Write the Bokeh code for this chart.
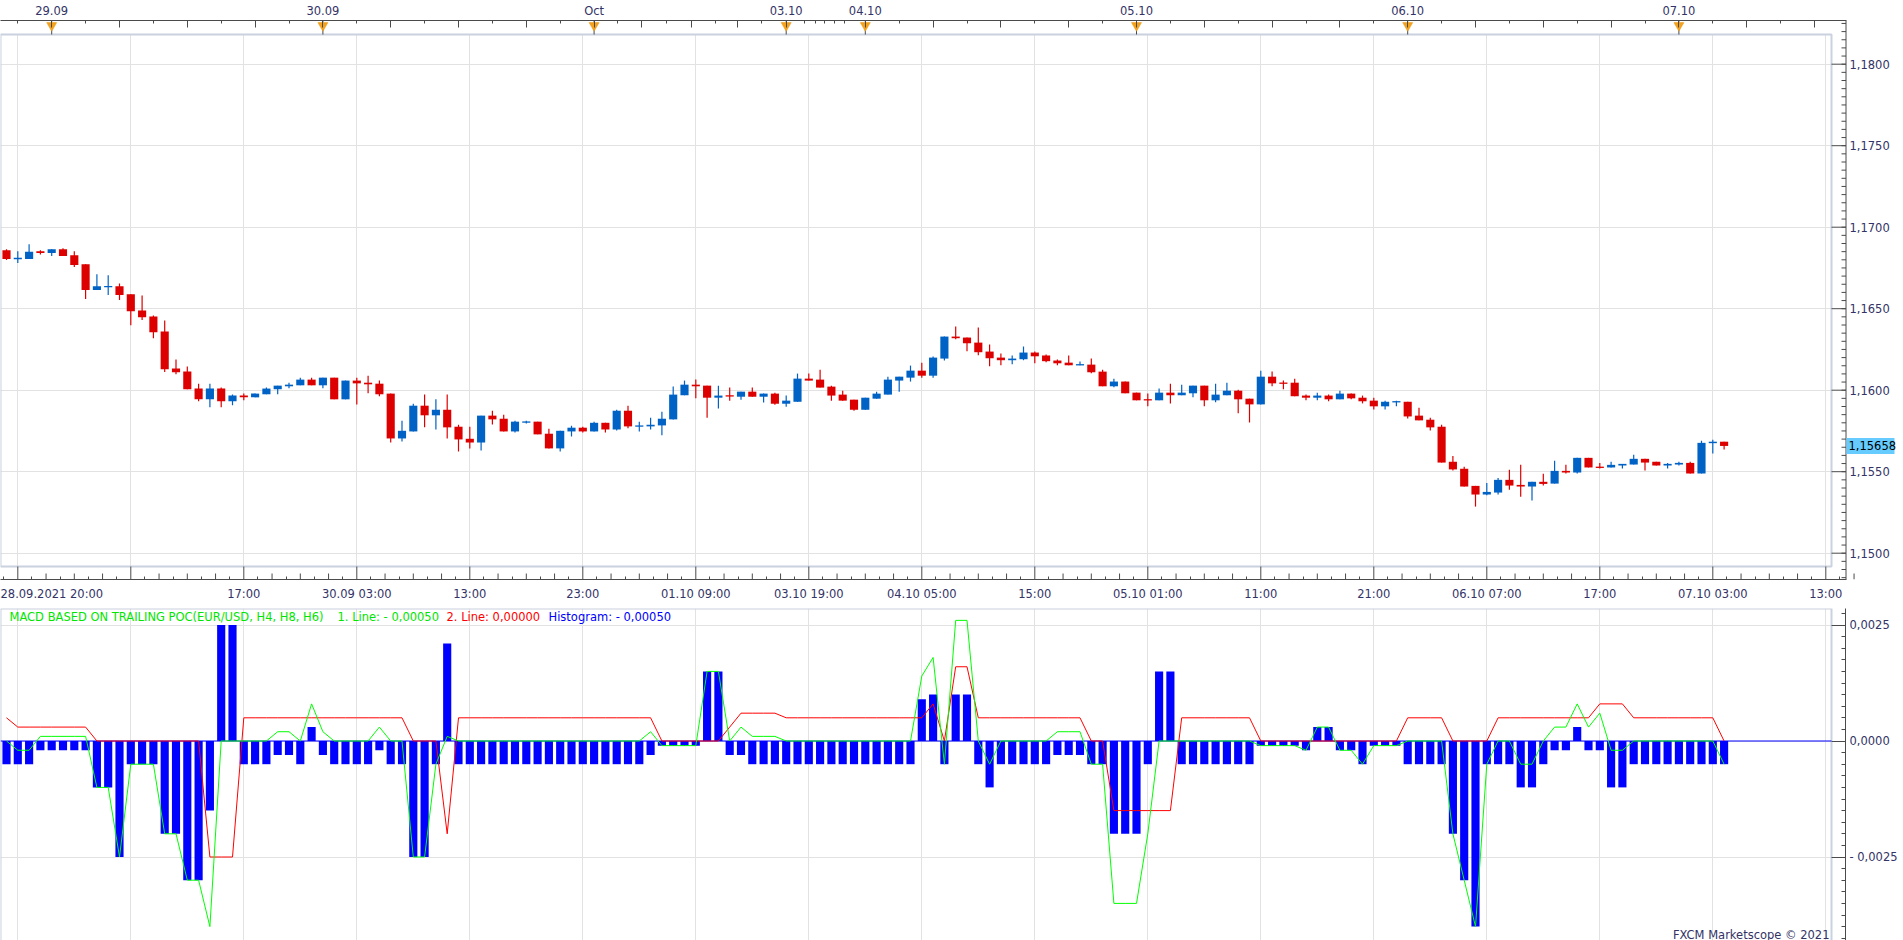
import numpy as np
from bokeh.plotting import figure
from bokeh.layouts import column
from bokeh.models import ColumnDataSource, Range1d, LinearAxis, FixedTicker, Label, Grid
from bokeh.core.properties import value
from bokeh.embed import file_html
from bokeh.resources import INLINE

# ---------------- data (EUR/USD H1 candles, 28.09.2021 20:00 -> 07.10.2021 04:00) ----------------
open_ = [1.16858,1.16807,1.16805,1.16852,1.16842,1.16864,1.16828,1.16772,1.16614,1.16635,
 1.16637,1.16588,1.16489,1.16452,1.16360,1.16133,1.16114,1.16010,1.15944,1.16010,
 1.15932,1.15967,1.15956,1.15975,1.16006,1.16024,1.16030,1.16065,1.16030,1.16077,
 1.15944,1.16059,1.16046,1.16040,1.15979,1.15704,1.15747,1.15905,1.15846,1.15880,
 1.15776,1.15702,1.15679,1.15844,1.15825,1.15747,1.15802,1.15807,1.15733,1.15643,
 1.15747,1.15770,1.15747,1.15800,1.15759,1.15874,1.15778,1.15778,1.15784,1.15821,
 1.15969,1.16034,1.16028,1.15954,1.15967,1.15960,1.15991,1.15960,1.15979,1.15917,
 1.15929,1.16071,1.16065,1.16022,1.15973,1.15942,1.15880,1.15948,1.15973,1.16059,
 1.16077,1.16120,1.16089,1.16194,1.16329,1.16323,1.16292,1.16237,1.16200,1.16184,
 1.16190,1.16231,1.16213,1.16182,1.16169,1.16153,1.16157,1.16114,1.16024,1.16053,
 1.15985,1.15944,1.15938,1.15985,1.15969,1.15981,1.16028,1.15938,1.15969,1.15997,
 1.15948,1.15913,1.16083,1.16046,1.16046,1.15967,1.15954,1.15967,1.15944,1.15979,
 1.15954,1.15936,1.15901,1.15926,1.15929,1.15844,1.15819,1.15776,1.15561,1.15518,
 1.15413,1.15360,1.15372,1.15450,1.15419,1.15409,1.15438,1.15427,1.15505,1.15495,
 1.15585,1.15530,1.15526,1.15538,1.15544,1.15579,1.15561,1.15538,1.15544,1.15554,
 1.15489,1.15675,1.15684]
high = [1.16864,1.16852,1.16895,1.16858,1.16864,1.16871,1.16852,1.16772,1.16711,1.16705,
 1.16655,1.16588,1.16581,1.16459,1.16428,1.16188,1.16145,1.16040,1.16040,1.16016,
 1.15973,1.15979,1.15979,1.16016,1.16028,1.16046,1.16077,1.16077,1.16077,1.16077,
 1.16059,1.16077,1.16089,1.16059,1.15979,1.15813,1.15917,1.15973,1.15944,1.15973,
 1.15788,1.15776,1.15844,1.15874,1.15850,1.15813,1.15813,1.15807,1.15764,1.15751,
 1.15782,1.15776,1.15807,1.15800,1.15880,1.15905,1.15807,1.15831,1.15868,1.16022,
 1.16059,1.16065,1.16028,1.16028,1.16016,1.15991,1.16016,1.15979,1.15985,1.15967,
 1.16102,1.16102,1.16126,1.16028,1.15997,1.15942,1.15954,1.15991,1.16083,1.16083,
 1.16151,1.16169,1.16206,1.16329,1.16391,1.16323,1.16385,1.16280,1.16225,1.16213,
 1.16268,1.16237,1.16219,1.16188,1.16213,1.16176,1.16194,1.16126,1.16071,1.16053,
 1.15985,1.15979,1.16010,1.16040,1.16034,1.16028,1.16028,1.16040,1.16046,1.16003,
 1.15948,1.16120,1.16114,1.16059,1.16071,1.15973,1.15985,1.15973,1.15997,1.15979,
 1.15967,1.15954,1.15936,1.15936,1.15929,1.15893,1.15831,1.15788,1.15597,1.15530,
 1.15413,1.15431,1.15462,1.15512,1.15542,1.15438,1.15487,1.15567,1.15542,1.15585,
 1.15585,1.15554,1.15561,1.15548,1.15604,1.15579,1.15561,1.15554,1.15561,1.15561,
 1.15690,1.15696,1.15684]
low = [1.16799,1.16780,1.16805,1.16832,1.16823,1.16823,1.16756,1.16559,1.16614,1.16584,
 1.16553,1.16399,1.16430,1.16319,1.16112,1.16098,1.16006,1.15932,1.15895,1.15895,
 1.15907,1.15938,1.15956,1.15975,1.15975,1.16012,1.16030,1.16030,1.16012,1.15944,
 1.15944,1.15913,1.15981,1.15963,1.15679,1.15686,1.15747,1.15772,1.15759,1.15704,
 1.15624,1.15643,1.15630,1.15790,1.15747,1.15741,1.15796,1.15729,1.15643,1.15624,
 1.15716,1.15741,1.15747,1.15741,1.15753,1.15766,1.15747,1.15759,1.15723,1.15821,
 1.15969,1.15950,1.15831,1.15887,1.15936,1.15942,1.15960,1.15924,1.15911,1.15899,
 1.15929,1.16059,1.16016,1.15936,1.15936,1.15874,1.15880,1.15948,1.15973,1.15991,
 1.16053,1.16077,1.16077,1.16182,1.16313,1.16239,1.16215,1.16147,1.16153,1.16159,
 1.16184,1.16165,1.16172,1.16153,1.16153,1.16153,1.16104,1.16024,1.16018,1.15981,
 1.15938,1.15901,1.15938,1.15919,1.15969,1.15956,1.15901,1.15926,1.15969,1.15858,
 1.15802,1.15913,1.16024,1.16006,1.15963,1.15938,1.15938,1.15932,1.15944,1.15944,
 1.15919,1.15882,1.15882,1.15901,1.15827,1.15815,1.15753,1.15556,1.15507,1.15409,
 1.15286,1.15356,1.15360,1.15390,1.15347,1.15323,1.15415,1.15427,1.15489,1.15489,
 1.15526,1.15520,1.15526,1.15520,1.15544,1.15507,1.15538,1.15520,1.15538,1.15489,
 1.15489,1.15612,1.15636]
close = [1.16805,1.16809,1.16850,1.16842,1.16864,1.16823,1.16768,1.16614,1.16637,1.16637,
 1.16584,1.16485,1.16448,1.16356,1.16129,1.16110,1.16006,1.15944,1.16010,1.15932,
 1.15967,1.15956,1.15979,1.16010,1.16028,1.16034,1.16065,1.16030,1.16077,1.15944,
 1.16059,1.16042,1.16036,1.15975,1.15704,1.15751,1.15905,1.15846,1.15880,1.15772,
 1.15698,1.15679,1.15844,1.15821,1.15747,1.15807,1.15807,1.15729,1.15643,1.15751,
 1.15770,1.15747,1.15800,1.15759,1.15874,1.15778,1.15782,1.15788,1.15825,1.15973,
 1.16034,1.16024,1.15954,1.15967,1.15963,1.15991,1.15960,1.15979,1.15917,1.15936,
 1.16071,1.16059,1.16016,1.15967,1.15936,1.15880,1.15954,1.15979,1.16065,1.16083,
 1.16120,1.16089,1.16200,1.16329,1.16319,1.16288,1.16233,1.16196,1.16184,1.16194,
 1.16231,1.16208,1.16178,1.16165,1.16153,1.16159,1.16110,1.16024,1.16053,1.15981,
 1.15938,1.15938,1.15985,1.15969,1.15985,1.16028,1.15938,1.15973,1.15997,1.15944,
 1.15913,1.16083,1.16042,1.16040,1.15963,1.15954,1.15967,1.15944,1.15979,1.15950,
 1.15932,1.15901,1.15929,1.15932,1.15839,1.15815,1.15772,1.15556,1.15514,1.15409,
 1.15360,1.15376,1.15450,1.15415,1.15409,1.15438,1.15425,1.15505,1.15495,1.15585,
 1.15526,1.15524,1.15542,1.15548,1.15579,1.15556,1.15538,1.15548,1.15554,1.15489,
 1.15677,1.15684,1.15658]
last_price = 1.15658
last_price_label = "1,15658"

# MACD based on trailing POC (EUR/USD, H4, H8, H6): histogram, 1. line (green), 2. line (red)
macd_hist = [-5e-4,-5e-4,-5e-4,-2e-4,-2e-4,-2e-4,-2e-4,-2e-4,-10e-4,-10e-4,
 -25e-4,-5e-4,-5e-4,-5e-4,-20e-4,-20e-4,-30e-4,-30e-4,-15e-4,25e-4,
 25e-4,-5e-4,-5e-4,-5e-4,-3e-4,-3e-4,-5e-4,3e-4,-3e-4,-5e-4,
 -5e-4,-5e-4,-5e-4,-2e-4,-5e-4,-5e-4,-25e-4,-25e-4,-5e-4,21e-4,
 -5e-4,-5e-4,-5e-4,-5e-4,-5e-4,-5e-4,-5e-4,-5e-4,-5e-4,-5e-4,
 -5e-4,-5e-4,-5e-4,-5e-4,-5e-4,-5e-4,-5e-4,-3e-4,-1e-4,-1e-4,
 -1e-4,-1e-4,15e-4,15e-4,-3e-4,-3e-4,-5e-4,-5e-4,-5e-4,-5e-4,
 -5e-4,-5e-4,-5e-4,-5e-4,-5e-4,-5e-4,-5e-4,-5e-4,-5e-4,-5e-4,
 -5e-4,9e-4,10e-4,-5e-4,10e-4,10e-4,-5e-4,-10e-4,-5e-4,-5e-4,
 -5e-4,-5e-4,-5e-4,-3e-4,-3e-4,-3e-4,-5e-4,-5e-4,-20e-4,-20e-4,
 -20e-4,-5e-4,15e-4,15e-4,-5e-4,-5e-4,-5e-4,-5e-4,-5e-4,-5e-4,
 -5e-4,-1e-4,-1e-4,-1e-4,-1e-4,-2e-4,3e-4,3e-4,-2e-4,-2e-4,
 -5e-4,-1e-4,-1e-4,-1e-4,-5e-4,-5e-4,-5e-4,-5e-4,-20e-4,-30e-4,
 -40e-4,-5e-4,-5e-4,-5e-4,-10e-4,-10e-4,-5e-4,-2e-4,-2e-4,3e-4,
 -2e-4,-2e-4,-10e-4,-10e-4,-5e-4,-5e-4,-5e-4,-5e-4,-5e-4,-5e-4,
 -5e-4,-5e-4,-5e-4]
macd_line2 = [5e-4,3e-4,3e-4,3e-4,3e-4,3e-4,3e-4,3e-4,0,0,
 0,0,0,0,0,0,0,0,-25e-4,-25e-4,
 -25e-4,5e-4,5e-4,5e-4,5e-4,5e-4,5e-4,5e-4,5e-4,5e-4,
 5e-4,5e-4,5e-4,5e-4,5e-4,5e-4,0,0,0,-20e-4,
 5e-4,5e-4,5e-4,5e-4,5e-4,5e-4,5e-4,5e-4,5e-4,5e-4,
 5e-4,5e-4,5e-4,5e-4,5e-4,5e-4,5e-4,5e-4,0,0,
 0,0,0,0,3e-4,6e-4,6e-4,6e-4,6e-4,5e-4,
 5e-4,5e-4,5e-4,5e-4,5e-4,5e-4,5e-4,5e-4,5e-4,5e-4,
 5e-4,5e-4,8e-4,0,16e-4,16e-4,5e-4,5e-4,5e-4,5e-4,
 5e-4,5e-4,5e-4,5e-4,5e-4,5e-4,0,0,-15e-4,-15e-4,
 -15e-4,-15e-4,-15e-4,-15e-4,5e-4,5e-4,5e-4,5e-4,5e-4,5e-4,
 5e-4,0,0,0,0,0,0,0,0,0,
 0,0,0,0,5e-4,5e-4,5e-4,5e-4,0,0,
 0,0,5e-4,5e-4,5e-4,5e-4,5e-4,5e-4,5e-4,5e-4,
 5e-4,8e-4,8e-4,8e-4,5e-4,5e-4,5e-4,5e-4,5e-4,5e-4,
 5e-4,5e-4,0]
macd_line1 = [0,-2e-4,-2e-4,1e-4,1e-4,1e-4,1e-4,1e-4,-10e-4,-10e-4,
 -25e-4,-5e-4,-5e-4,-5e-4,-20e-4,-20e-4,-30e-4,-30e-4,-40e-4,0,
 0,0,0,0,2e-4,2e-4,0,8e-4,2e-4,0,
 0,0,0,3e-4,0,0,-25e-4,-25e-4,-5e-4,1e-4,
 0,0,0,0,0,0,0,0,0,0,
 0,0,0,0,0,0,0,2e-4,-1e-4,-1e-4,
 -1e-4,-1e-4,15e-4,15e-4,0,3e-4,1e-4,1e-4,1e-4,0,
 0,0,0,0,0,0,0,0,0,0,
 0,14e-4,18e-4,-5e-4,26e-4,26e-4,0,-5e-4,0,0,
 0,0,0,2e-4,2e-4,2e-4,-5e-4,-5e-4,-35e-4,-35e-4,
 -35e-4,-20e-4,0,0,0,0,0,0,0,0,
 0,-1e-4,-1e-4,-1e-4,-1e-4,-2e-4,3e-4,3e-4,-2e-4,-2e-4,
 -5e-4,-1e-4,-1e-4,-1e-4,0,0,0,0,-20e-4,-30e-4,
 -40e-4,-5e-4,0,0,-5e-4,-5e-4,0,3e-4,3e-4,8e-4,
 3e-4,6e-4,-2e-4,-2e-4,0,0,0,0,0,0,
 0,0,-5e-4]

# axis ticks / labels (positions in bar-index units)
bottom_ticks = [1, 11, 21, 31, 41, 51, 61, 71, 81, 91, 101, 111, 121, 131, 141, 151, 161]
bottom_labels = ["", "", "17:00", "30.09 03:00", "13:00", "23:00", "01.10 09:00", "03.10 19:00",
                 "04.10 05:00", "15:00", "05.10 01:00", "11:00", "21:00", "06.10 07:00", "17:00",
                 "07.10 03:00", "13:00"]
first_bar_label = "28.09.2021 20:00"
first_bar_label_pos = 4.0
day_marks = [4, 28, 52, 69, 76, 100, 124, 148]
day_labels = ["29.09", "30.09", "Oct", "03.10", "04.10", "05.10", "06.10", "07.10"]
top_long_ticks = [10, 16, 22, 34, 40, 46, 56.2, 60.6, 64.7, 82, 88, 94, 106, 112, 118, 130, 136, 142, 154, 160]
top_short_ticks = [1, 7, 13, 19, 25, 31, 37, 43, 49, 54.1, 58.4, 62.7, 66.8, 70.6, 71.6, 72.4, 73.3, 74.2,
                   79, 85, 91, 97, 103, 109, 115, 121, 127, 133, 139, 145, 151, 157]
price_ticks = [1.150, 1.155, 1.160, 1.165, 1.170, 1.175, 1.180]
price_labels = ["1,1500", "1,1550", "1,1600", "1,1650", "1,1700", "1,1750", "1,1800"]
macd_ticks = [-0.0025, 0.0, 0.0025]
macd_labels = ["- 0,0025", "0,0000", "0,0025"]
title_parts = [("MACD BASED ON TRAILING POC(EUR/USD, H4, H8, H6)", "#00e600", 9),
               ("1. Line: - 0,00050", "#00e600", 337),
               ("2. Line: 0,00000", "#ff0000", 446),
               ("Histogram: - 0,00050", "#0000ff", 548)]
copyright_text = "FXCM Marketscope \u00a9 2021"

# ---------------- geometry / style ----------------
FIG_W = 1903
BAR_PX, BAR0_PX = 11.3, 6.0
AXIS_X, BOX_R = 1845, 1831
P_H, P_TOP, P_BOX_TOP, P_BOX_BOT, P_AX_BOT = 600, 18, 32, 564, 577
PPU, Y_REF = 16300.0, 550.7            # px per price unit, page y of 1.1500
Q_TOP0, Q_H, Q_FT, Q_FB = 600, 340, 605, 938
IPU, I_ZERO = 46400.0, 737.5
FONT = "DejaVu Sans"
FS = "11.5px"
TXT = "#333366"
AXC = "#4a4a4a"
GRID = "#e2e2e2"
BOXC = "#c9d2de"
RED, BLUE = "#dd0000", "#0062c4"

def px2x(px):
    return (px - BAR0_PX) / BAR_PX

def py2price(py):
    return price_ticks[0] + (Y_REF - py) / PPU

def py2macd(py):
    return (I_ZERO - py) / IPU

def style_axis(ax, tin, minin, standoff):
    ax.axis_line_color = AXC
    ax.major_tick_line_color = AXC
    ax.minor_tick_line_color = AXC
    ax.major_tick_in = tin
    ax.major_tick_out = 0
    ax.minor_tick_in = minin
    ax.minor_tick_out = 0
    ax.major_label_standoff = standoff
    ax.major_label_text_font = FONT
    ax.major_label_text_font_size = FS
    ax.major_label_text_color = TXT

xl, xb, xa, xe = px2x(0), px2x(BOX_R), px2x(AXIS_X + 0.5), px2x(FIG_W)

# ---------------- main price panel (frame spans full width; price scale drawn on the right) ----------------
y0, y1 = py2price(P_AX_BOT), py2price(P_TOP)
p = figure(width=FIG_W, height=P_H, frame_width=FIG_W, frame_height=P_AX_BOT - P_TOP,
           min_border_left=0, min_border_right=0, min_border_top=P_TOP,
           min_border_bottom=P_H - P_AX_BOT, x_range=Range1d(xl, xe), y_range=Range1d(y0, y1),
           x_axis_location="below", y_axis_location=None,
           output_backend="svg", toolbar_location=None)
p.outline_line_color = None
p.background_fill_color = "white"
p.border_fill_color = "white"
p.grid.visible = False
p.add_layout(Grid(dimension=0, ticker=FixedTicker(ticks=bottom_ticks), grid_line_color=GRID))
p.add_layout(Grid(dimension=1, ticker=FixedTicker(ticks=price_ticks), grid_line_color=GRID))

bx = p.below[0]
bshort = [1 + 1.25 * k for k in range(-1, 131) if k % 2 != 0]
bmedium = [1 + 1.25 * k for k in range(-1, 131) if k % 2 == 0 and k % 8 != 0]
bmajor = [first_bar_label_pos] + bottom_ticks
bx.ticker = FixedTicker(ticks=bmajor, minor_ticks=bshort)
ov = {t: s for t, s in zip(bottom_ticks, bottom_labels)}
ov[first_bar_label_pos] = first_bar_label
bx.major_label_overrides = ov
style_axis(bx, 0, 3, 7)
bx.bounds = (xl, xa)

top_major = sorted(top_long_ticks + day_marks)
tx = LinearAxis(ticker=FixedTicker(ticks=top_major, minor_ticks=top_short_ticks))
tx.major_label_overrides = {t: (day_labels[day_marks.index(t)] if t in day_marks else "") for t in top_major}
style_axis(tx, 7, 3, 3)
tx.bounds = (xl, xa)
p.add_layout(tx, "above")

# white covers for the gaps between the chart box and the scales, then the box outline
p.quad(left=[xl, xb, xl], right=[xe, xe, xe],
       bottom=[py2price(P_BOX_TOP), y0, y0], top=[y1, y1, py2price(P_BOX_BOT)],
       fill_color="white", line_color=None)
p.quad(left=[xl], right=[xb], bottom=[py2price(P_BOX_BOT)], top=[py2price(P_BOX_TOP)],
       fill_color=None, line_color=BOXC, line_width=2)

# candles
o, h, l, c = map(np.asarray, (open_, high, low, close))
idx = np.arange(len(o))
colors = np.where(c >= o, BLUE, RED)
bt, bb = np.maximum(o, c), np.minimum(o, c)
minh = 1.3 / PPU
mid = (bt + bb) / 2
thin = (bt - bb) < minh
bt = np.where(thin, mid + minh / 2, bt)
bb = np.where(thin, mid - minh / 2, bb)
src = ColumnDataSource(dict(x=idx, h=h, l=l, t=bt, b=bb, col=colors))
p.segment(x0="x", y0="l", x1="x", y1="h", line_color="col", line_width=1.2, source=src)
p.vbar(x="x", top="t", bottom="b", width=0.72, fill_color="col", line_color=None, source=src)

# bottom time-scale major and medium ticks (into the gap under the box)
nb = len(bottom_ticks)
p.segment(x0=bottom_ticks, x1=bottom_ticks, y0=[py2price(P_BOX_BOT)] * nb, y1=[y0] * nb,
          line_color=AXC, line_width=1)
nm = len(bmedium)
p.segment(x0=bmedium, x1=bmedium, y0=[py2price(P_AX_BOT - 6)] * nm, y1=[y0] * nm,
          line_color=AXC, line_width=1)

# day markers on the top date scale
nd = len(day_marks)
p.segment(x0=day_marks, x1=day_marks, y0=[y1] * nd, y1=[py2price(P_BOX_TOP)] * nd,
          line_color=AXC, line_width=1)
p.scatter(x=day_marks, y=[py2price(23)] * nd, marker="inverted_triangle",
          size=10, fill_color="#f5a21c", line_color="#e8940e", line_width=0.5)

# right price scale
npk = len(price_ticks)
pminor = [round(1.1480 + 0.0005 * k, 4) for k in range(0, 70)]
pminor = [v for v in pminor if y0 < v < y1]
p.segment(x0=[xa], x1=[xa], y0=[y0], y1=[y1], line_color=AXC, line_width=1)
p.segment(x0=[xb] * npk, x1=[xa] * npk, y0=price_ticks, y1=price_ticks, line_color=AXC, line_width=1)
p.segment(x0=[px2x(AXIS_X - 4)] * len(pminor), x1=[xa] * len(pminor), y0=pminor, y1=pminor,
          line_color=AXC, line_width=1)
p.text(x=[px2x(AXIS_X + 4)] * npk, y=price_ticks, text=price_labels, text_align="left",
       text_baseline="middle", text_font=value(FONT), text_font_size=FS, text_color=TXT)
p.quad(left=[px2x(AXIS_X + 1)], right=[px2x(1894)], bottom=[last_price - 8 / PPU],
       top=[last_price + 8 / PPU], fill_color="#66ccff", line_color=None)
p.text(x=[px2x(AXIS_X + 3)], y=[last_price], text=[last_price_label], text_align="left",
       text_baseline="middle", text_font=value(FONT), text_font_size=FS, text_color="black")

# ---------------- MACD panel ----------------
v0, v1 = py2macd(Q_FB), py2macd(Q_FT)
q = figure(width=FIG_W, height=Q_H, frame_width=AXIS_X, frame_height=Q_FB - Q_FT,
           min_border_left=0, min_border_right=FIG_W - AXIS_X, min_border_top=Q_FT - Q_TOP0,
           min_border_bottom=Q_TOP0 + Q_H - Q_FB, x_range=Range1d(xl, px2x(AXIS_X)),
           y_range=Range1d(v0, v1), x_axis_location=None, y_axis_location="right",
           output_backend="svg", toolbar_location=None)
q.outline_line_color = None
q.background_fill_color = "white"
q.border_fill_color = "white"
q.grid.visible = False
q.add_layout(Grid(dimension=0, ticker=FixedTicker(ticks=bottom_ticks), grid_line_color=GRID))
q.add_layout(Grid(dimension=1, ticker=FixedTicker(ticks=macd_ticks), grid_line_color=GRID))

qy = q.right[0]
mminor = [round(-0.00450 + 0.00025 * k, 5) for k in range(0, 31)]
qy.ticker = FixedTicker(ticks=macd_ticks, minor_ticks=mminor)
qy.major_label_overrides = {t: s for t, s in zip(macd_ticks, macd_labels)}
style_axis(qy, AXIS_X - BOX_R, 4, 4)

q.quad(left=[xb], right=[px2x(AXIS_X)], bottom=[v0], top=[v1], fill_color="white", line_color=None)
q.quad(left=[xl], right=[xb], bottom=[v0], top=[v1], fill_color=None, line_color=BOXC, line_width=2)

q.vbar(x=idx, top=macd_hist, bottom=0, width=0.72, fill_color="#0000ff", line_color=None)
q.segment(x0=[xl], x1=[xb], y0=[0], y1=[0], line_color="#0000ff", line_width=1)
q.line(idx, macd_line2, line_color="#ff0000", line_width=1)
q.line(idx, macd_line1, line_color="#00ff00", line_width=1)

for txt, col, xpx in title_parts:
    q.add_layout(Label(x=px2x(xpx), y=py2macd(613), text=txt, text_align="left", text_baseline="middle",
                       text_font=FONT, text_font_size=FS, text_color=col))
q.add_layout(Label(x=px2x(1829), y=py2macd(931), text=copyright_text, text_align="right",
                   text_baseline="middle", text_font=FONT, text_font_size=FS, text_color=TXT))

layout = column(p, q, spacing=0)
open("out.html", "w").write(file_html(layout, INLINE))
